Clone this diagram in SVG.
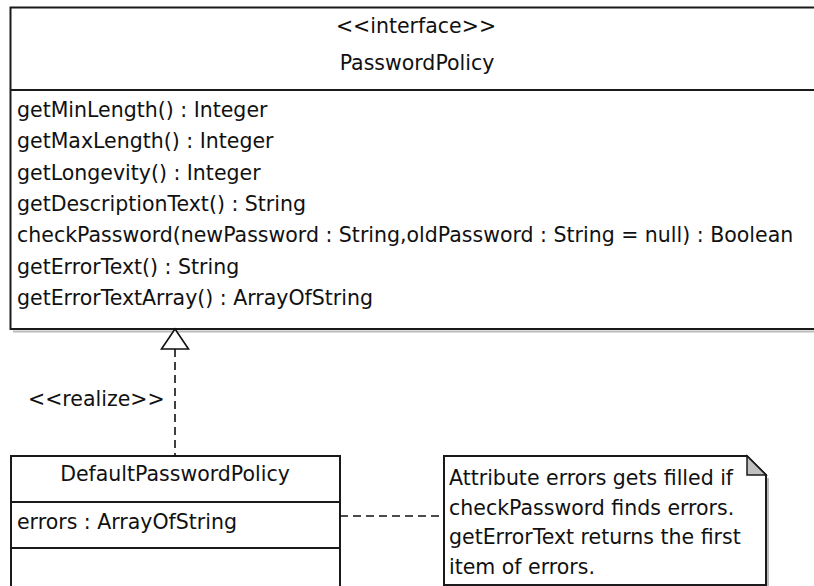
<svg xmlns="http://www.w3.org/2000/svg" width="814" height="586" viewBox="0 0 814 586">
<style>
text{font-family:"DejaVu Sans","Liberation Sans",sans-serif;font-size:20.5px;fill:#111}
.box{fill:#fff;stroke:#1a1a1a;stroke-width:2}
.sep{stroke:#1a1a1a;stroke-width:2}
.shadow{fill:none;stroke:#bbb;stroke-width:2}
.dash{fill:none;stroke:#111;stroke-width:1.6;stroke-dasharray:8,5}
.mid{text-anchor:middle}
</style>
<rect width="814" height="586" fill="#fff"/>
<g id="PasswordPolicy">
<line class="shadow" x1="13" y1="331.5" x2="824" y2="331.5"/>
<rect class="box" x="10.5" y="7.5" width="812" height="321.5"/>
<line class="sep" x1="10.5" y1="90" x2="822.5" y2="90"/>
<text class="mid" x="416" y="33">&lt;&lt;interface&gt;&gt;</text>
<text class="mid" x="417" y="70">PasswordPolicy</text>
<text x="17" y="117">getMinLength() : Integer</text>
<text x="17" y="148">getMaxLength() : Integer</text>
<text x="17" y="180">getLongevity() : Integer</text>
<text x="17" y="211">getDescriptionText() : String</text>
<text x="17" y="242">checkPassword(newPassword : String,oldPassword : String = null) : Boolean</text>
<text x="17" y="274">getErrorText() : String</text>
<text x="17" y="305">getErrorTextArray() : ArrayOfString</text>
</g>
<g id="DefaultPasswordPolicy">
<rect class="box" x="11" y="456" width="329" height="150"/>
<line class="sep" x1="11" y1="502" x2="340" y2="502"/>
<line class="sep" x1="11" y1="548" x2="340" y2="548"/>
<text class="mid" x="175" y="481">DefaultPasswordPolicy</text>
<text x="17" y="529">errors : ArrayOfString</text>
</g>
<g id="note">
<line class="shadow" x1="768" y1="478" x2="768" y2="588"/>
<polygon class="box" points="444,456 747,456 766,475 766,585 444,585"/>
<polygon points="747,456 747,475 766,475" fill="#c0c0c0" stroke="#1a1a1a" stroke-width="1.5"/>
<text x="449" y="485">Attribute errors gets filled if</text>
<text x="449" y="515">checkPassword finds errors.</text>
<text x="449" y="544">getErrorText returns the first</text>
<text x="449" y="574">item of errors.</text>
</g>
<g id="connectors">
<line class="dash" x1="175" y1="349" x2="175" y2="456"/>
<polygon points="175,329 161.5,349 188.5,349" fill="#fff" stroke="#111" stroke-width="1.6"/>
<text x="28" y="406">&lt;&lt;realize&gt;&gt;</text>
<line class="dash" x1="340" y1="516" x2="444" y2="516"/>
</g>
</svg>
